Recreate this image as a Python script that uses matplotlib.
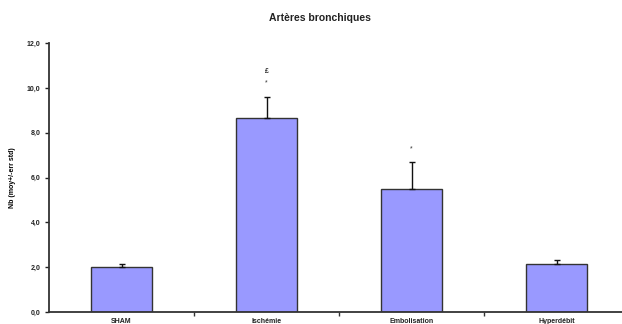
import numpy as np
import matplotlib
matplotlib.use("Agg")
import matplotlib.pyplot as plt

groupes = ["SHAM", "Ischémie", "Embolisation", "Hyperdébit"]
moyennes = [2.0, 8.66, 5.49, 2.14]
erreurs = [0.15, 0.95, 1.2, 0.2]
signes = ["", "*", "*", ""]
signes2 = ["", "£", "", ""]

plt.rcParams['font.family'] = ['Liberation Sans', 'DejaVu Sans']
fig = plt.figure(figsize=(6.22, 3.24), dpi=100)
ax = fig.add_axes([0.0788, 0.037, 0.9325, 0.830])

x = np.arange(len(groupes))
ax.bar(x, moyennes, width=0.42, color='#9999FF', edgecolor='#333333', linewidth=1.0, zorder=2)
ax.errorbar(x, moyennes, yerr=[np.zeros(len(x)), erreurs], fmt='none',
            ecolor='#111111', elinewidth=1.0, capsize=2, capthick=1.0, zorder=3)

# marqueurs de significativite au-dessus des barres
for i in range(len(x)):
    if signes[i]:
        ax.text(x[i], moyennes[i] + erreurs[i] + 0.45, signes[i], ha='center', va='bottom',
                fontsize=5, color='#333333')
    if signes2[i]:
        ax.text(x[i], moyennes[i] + erreurs[i] + 0.95, signes2[i], ha='center', va='bottom',
                fontsize=5, fontweight='bold', color='#333333')

ax.set_xlim(-0.5, 3.5)
ax.set_ylim(0, 12)
ax.set_yticks(np.arange(0, 13, 2))
ax.set_yticklabels([("%.1f" % v).replace('.', ',') for v in np.arange(0, 13, 2)])
ax.set_xticks(x)
ax.set_xticklabels(groupes)
ax.set_xticks([0.5, 1.5, 2.5], minor=True)
ax.tick_params(axis='x', which='major', length=0, labelsize=5, pad=4, colors='#222222')
ax.tick_params(axis='x', which='minor', length=3, width=1.0, direction='out', color='#333333')
ax.tick_params(axis='y', length=3, width=1.0, labelsize=5, pad=3, colors='#222222')
for t in ax.get_xticklabels() + ax.get_yticklabels():
    t.set_fontweight('bold')

for s in ['top', 'right']:
    ax.spines[s].set_visible(False)
for s in ['left', 'bottom']:
    ax.spines[s].set_color('#333333')
    ax.spines[s].set_linewidth(1.3)

ax.set_ylabel("Nb (moy+/-err std)", fontsize=5, fontweight='bold', labelpad=8)
fig.text(0.515, 0.945, "Artères bronchiques", ha='center', va='center', fontsize=7.5, fontweight='bold',
         color='#222222')

fig.savefig('out.png', dpi=100)
